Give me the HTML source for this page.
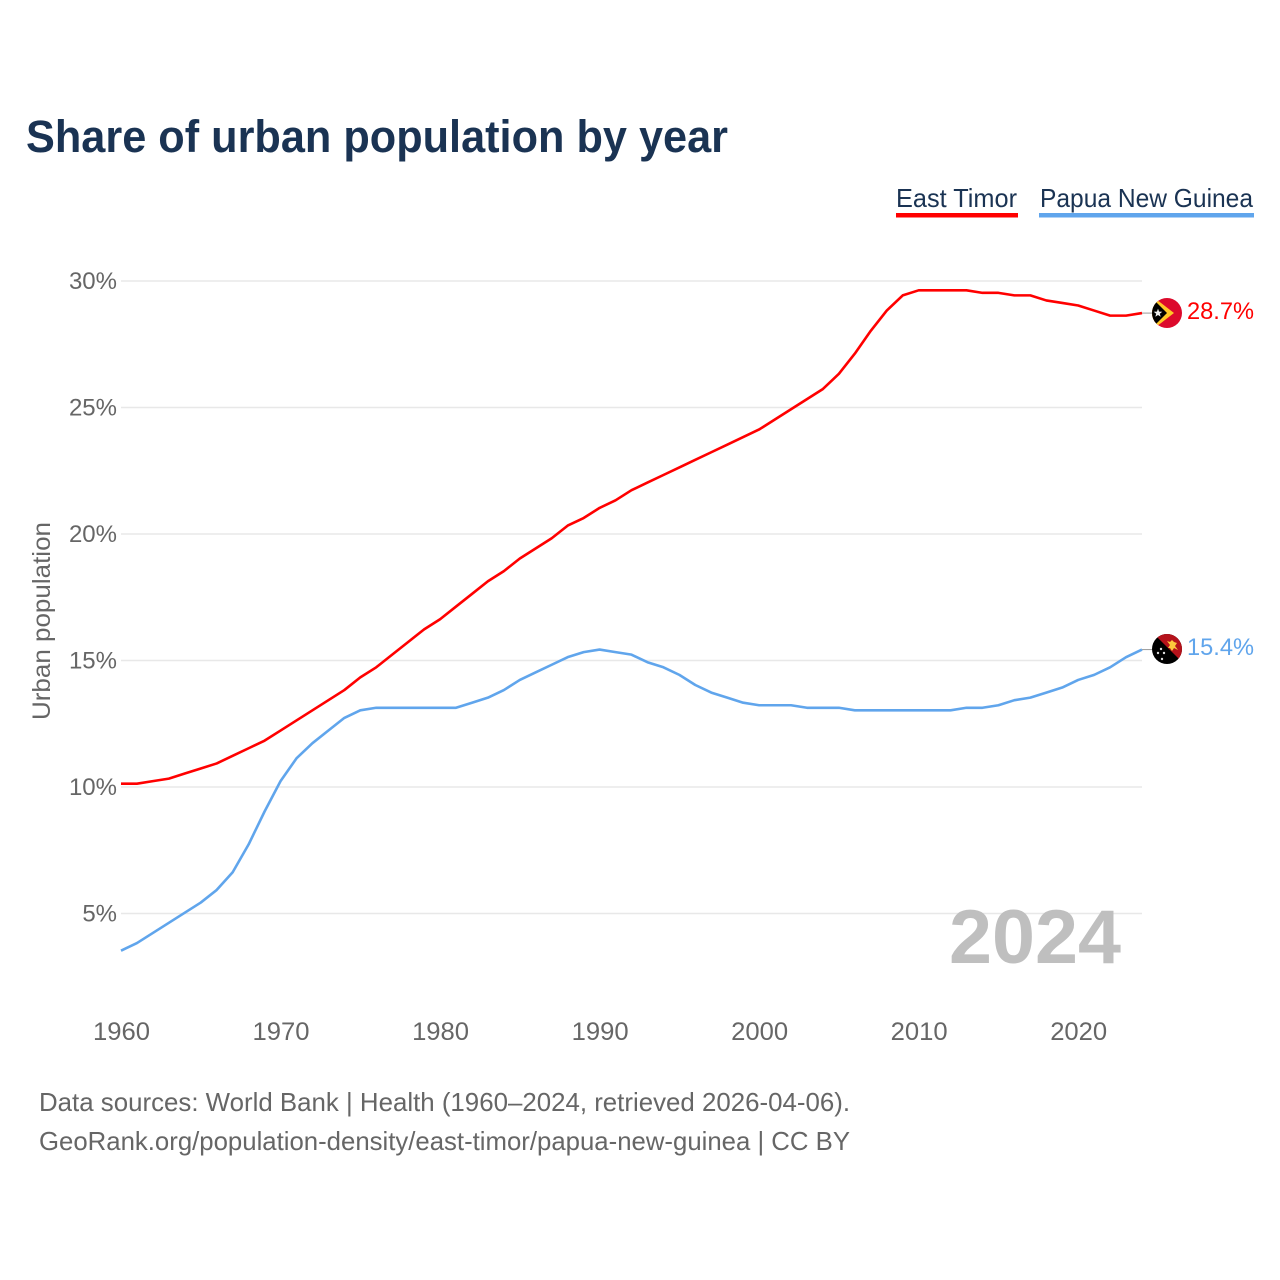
<!DOCTYPE html>
<html lang="en">
<head>
<meta charset="utf-8">
<title>Share of urban population by year</title>
<style>
html,body{margin:0;padding:0;background:#fff;}
svg{display:block;font-family:"Liberation Sans",sans-serif;}
</style>
</head>
<body>
<svg id="chart" width="1280" height="1280" viewBox="0 0 1280 1280">
  <defs>
    <clipPath id="flag-clip-tl"><circle cx="1167" cy="313" r="15"/></clipPath>
    <clipPath id="flag-clip-pg"><circle cx="1167" cy="649" r="15"/></clipPath>
  </defs>
  <rect x="0" y="0" width="1280" height="1280" fill="#fff"/>
  <text x="26" y="152" font-size="45" font-weight="700" fill="#1a3353" textLength="702" lengthAdjust="spacingAndGlyphs">Share of urban population by year</text>

  <g>
    <text x="896" y="207" font-size="26" fill="#1a3353" textLength="121" lengthAdjust="spacingAndGlyphs">East Timor</text>
    <rect x="896" y="213" width="122" height="4.5" fill="#ff0000"/>
  </g>
  <g>
    <text x="1040" y="207" font-size="26" fill="#1a3353" textLength="213" lengthAdjust="spacingAndGlyphs">Papua New Guinea</text>
    <rect x="1039" y="213" width="215" height="4.5" fill="#60a5ec"/>
  </g>

  <g id="grid"></g>
  <g id="yticks"></g>
  <g id="xticks"></g>

  <text transform="translate(50,621) rotate(-90)" text-anchor="middle" font-size="25" fill="#666666" textLength="198" lengthAdjust="spacingAndGlyphs">Urban population</text>

  <text x="949" y="963" font-size="76" font-weight="700" fill="#bfbfbf" textLength="172" lengthAdjust="spacingAndGlyphs">2024</text>

  <g id="series" transform="translate(0,-0.8)"></g>

  <g clip-path="url(#flag-clip-tl)">
    <rect x="1152" y="298" width="30" height="30" fill="#dc0a2c"/>
    <polygon points="1152,296 1174,313 1152,330" fill="#ffc726"/>
    <polygon points="1152,298 1167,313 1152,328" fill="#000000"/>
    <polygon points="1158,308.6 1159.1,311.6 1162.3,311.7 1159.8,313.7 1160.7,316.8 1158,315 1155.3,316.8 1156.2,313.7 1153.7,311.7 1156.9,311.6" fill="#eeeeee"/>
  </g>
  <g clip-path="url(#flag-clip-pg)">
    <rect x="1152" y="634" width="30" height="30" fill="#000000"/>
    <polygon points="1154,634 1182,634 1182,662" fill="#b5121b"/>
    <polygon points="1167,641 1170,642 1172,640 1174,642 1177,643 1175,646 1178,650 1174,648 1172,651 1170,648 1168,648 1170,645" fill="#fcc83c"/>
    <circle cx="1161" cy="649" r="1.2" fill="#ddd"/>
    <circle cx="1158" cy="653" r="1.2" fill="#ddd"/>
    <circle cx="1164" cy="653" r="1.2" fill="#ddd"/>
    <circle cx="1162" cy="659" r="1.2" fill="#ddd"/>
  </g>

  <text x="1187" y="319" font-size="24.5" fill="#ff0000" textLength="67" lengthAdjust="spacingAndGlyphs">28.7%</text>
  <text x="1187" y="655" font-size="24.5" fill="#60a5ec" textLength="67" lengthAdjust="spacingAndGlyphs">15.4%</text>

  <text x="39" y="1111" font-size="26" fill="#666666" textLength="811" lengthAdjust="spacingAndGlyphs">Data sources: World Bank | Health (1960–2024, retrieved 2026-04-06).</text>
  <text x="39" y="1150" font-size="26" fill="#666666" textLength="811" lengthAdjust="spacingAndGlyphs">GeoRank.org/population-density/east-timor/papua-new-guinea | CC BY</text>
</svg>
<script>
const years = [1960,1961,1962,1963,1964,1965,1966,1967,1968,1969,1970,1971,1972,1973,1974,1975,1976,1977,1978,1979,1980,1981,1982,1983,1984,1985,1986,1987,1988,1989,1990,1991,1992,1993,1994,1995,1996,1997,1998,1999,2000,2001,2002,2003,2004,2005,2006,2007,2008,2009,2010,2011,2012,2013,2014,2015,2016,2017,2018,2019,2020,2021,2022,2023,2024];
const eastTimor = [10.1,10.1,10.2,10.3,10.5,10.7,10.9,11.2,11.5,11.8,12.2,12.6,13.0,13.4,13.8,14.3,14.7,15.2,15.7,16.2,16.6,17.1,17.6,18.1,18.5,19.0,19.4,19.8,20.3,20.6,21.0,21.3,21.7,22.0,22.3,22.6,22.9,23.2,23.5,23.8,24.1,24.5,24.9,25.3,25.7,26.3,27.1,28.0,28.8,29.4,29.6,29.6,29.6,29.6,29.5,29.5,29.4,29.4,29.2,29.1,29.0,28.8,28.6,28.6,28.7];
const papuaNewGuinea = [3.5,3.8,4.2,4.6,5.0,5.4,5.9,6.6,7.7,9.0,10.2,11.1,11.7,12.2,12.7,13.0,13.1,13.1,13.1,13.1,13.1,13.1,13.3,13.5,13.8,14.2,14.5,14.8,15.1,15.3,15.4,15.3,15.2,14.9,14.7,14.4,14.0,13.7,13.5,13.3,13.2,13.2,13.2,13.1,13.1,13.1,13.0,13.0,13.0,13.0,13.0,13.0,13.0,13.1,13.1,13.2,13.4,13.5,13.7,13.9,14.2,14.4,14.7,15.1,15.4];
const yTickValues = [5,10,15,20,25,30];
const xTickValues = [1960,1970,1980,1990,2000,2010,2020];

const NS = 'http://www.w3.org/2000/svg';
const xScale = function (year) { return 121 + (year - 1960) * (1142 - 121) / 64; };
const yScale = function (value) { return 787 - (value - 10) * (787 - 281) / 20; };

function make(tag, attrs, parent) {
  const el = document.createElementNS(NS, tag);
  Object.keys(attrs).forEach(function (k) { el.setAttribute(k, attrs[k]); });
  parent.appendChild(el);
  return el;
}

const grid = document.getElementById('grid');
const yticks = document.getElementById('yticks');
const xticks = document.getElementById('xticks');
const series = document.getElementById('series');

yTickValues.forEach(function (v) {
  const line = make('line', {x1: 121, x2: 1142, y1: yScale(v), y2: yScale(v), stroke: '#e8e8e8', 'stroke-width': 1.5}, grid);
  
  
  const label = make('text', {x: 117, y: yScale(v) + 8, 'text-anchor': 'end', 'font-size': 24, fill: '#666666'}, yticks);
  label.textContent = v + '%';
  
  
});

xTickValues.forEach(function (year) {
  const label = make('text', {x: xScale(year) + 0.5, y: 1040, 'text-anchor': 'middle', 'font-size': 25, fill: '#666666', textLength: 57, lengthAdjust: 'spacingAndGlyphs'}, xticks);
  label.textContent = String(year);
  
  
});

function drawSeries(values, color, slug) {
  const d = values.map(function (v, i) {
    return (i ? 'L' : 'M') + xScale(years[i]).toFixed(2) + ' ' + yScale(v).toFixed(2);
  }).join(' ');
  const path = make('path', {d: d, fill: 'none', stroke: color, 'stroke-width': 2.6, 'stroke-linejoin': 'round'}, series);
  
  
  const last = yScale(values[values.length - 1]);
  const connector = make('line', {x1: 1142, x2: 1153, y1: last, y2: last, stroke: '#999999', 'stroke-width': 1}, series);
  
  
}
drawSeries(eastTimor, '#ff0000', 'east-timor');
drawSeries(papuaNewGuinea, '#60a5ec', 'papua-new-guinea');
</script>
</body>
</html>
